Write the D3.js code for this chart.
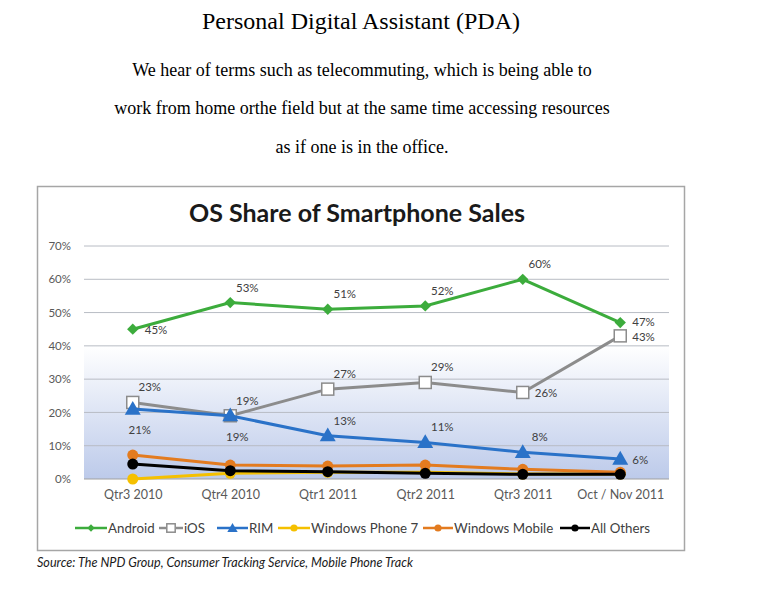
<!DOCTYPE html>
<html><head><meta charset="utf-8">
<script src="https://cdn.jsdelivr.net/npm/d3@7"></script>
<style>
html,body{margin:0;padding:0;background:#fff;}
svg{display:block;}
</style></head>
<body>
<svg id="c" width="768" height="601"></svg>
<script>
// ---- data ----
const categories = ["Qtr3 2010","Qtr4 2010","Qtr1 2011","Qtr2 2011","Qtr3 2011","Oct / Nov 2011"];
const yTicks = [0,10,20,30,40,50,60,70];
const android = [45,53,51,52,60,47];
const ios = [23,19,27,29,26,43];
const rim = [21,19,13,11,8,6];
const windowsPhone7 = [0,1.7,2,2,1.5,1.5];
const windowsMobile = [7.2,4.2,3.9,4.2,2.9,2];
const allOthers = [4.5,2.5,2.2,1.7,1.4,1.4];
const seriesNames = ["Android","iOS","RIM","Windows Phone 7","Windows Mobile","All Others"];
// label placement codes: r = right, ru = right/up, rd = right/down, a = above, b = below
const androidLabelPos = ["r","a","a","a","a","ru"];
const iosLabelPos = ["a","a","a","a","r","rd"];
const rimLabelPos = ["b","b","a","a","a","r"];

const pageTitle = "Personal Digital Assistant (PDA)";
const paragraph = ["We hear of terms such as telecommuting, which is being able to",
  "work from home orthe field but at the same time accessing resources",
  "as if one is in the office."];
const chartTitle = "OS Share of Smartphone Sales";
const sourceText = "Source: The NPD Group, Consumer Tracking Service, Mobile Phone Track";

// ---- drawing ----
const svg = d3.select("#c");
const serif = "'Liberation Serif','Times New Roman',serif";
const sans = "Lato,'Open Sans',sans-serif";

svg.append("text").attr("x",361).attr("y",29).attr("text-anchor","middle")
  .style("font-family",serif).style("font-size","24px").attr("fill","#000").text(pageTitle);
const paraY = [76,114,153];
paragraph.forEach((t,i)=>{
  svg.append("text").attr("x",362).attr("y",paraY[i]).attr("text-anchor","middle")
    .style("font-family",serif).style("font-size","18px").attr("fill","#000").text(t);
});

// chart frame
svg.append("rect").attr("x",37.5).attr("y",186.5).attr("width",647).attr("height",364)
  .attr("fill","#fff").attr("stroke","#a6a6a6").attr("stroke-width",1.5);

svg.append("text").attr("x",357).attr("y",222).attr("text-anchor","middle")
  .style("font-family",sans).style("font-weight","bold").style("font-size","25px").attr("fill","#1a1a1a").text(chartTitle);

const x = d3.scalePoint().domain(categories).range([84,669]).padding(0.5);
const y = d3.scaleLinear().domain([0,70]).range([479,246]);

// gradient background below 40%
const defs = svg.append("defs");
const grad = defs.append("linearGradient").attr("id","bg").attr("x1",0).attr("y1",0).attr("x2",0).attr("y2",1);
grad.append("stop").attr("offset","0%").attr("stop-color","#ffffff");
grad.append("stop").attr("offset","100%").attr("stop-color","#bccaea");
svg.append("rect").attr("x",84).attr("y",y(40)).attr("width",669-84).attr("height",y(0)-y(40)).attr("fill","url(#bg)");

// gridlines
svg.append("g").selectAll("line").data(yTicks).join("line")
  .attr("x1",84).attr("x2",669).attr("y1",d=>y(d)).attr("y2",d=>y(d))
  .attr("stroke",d=>d===0?"#a0a0a0":"#b8bcc4").attr("stroke-width",1);

// y axis
const yAxis = d3.axisLeft(y).tickValues(yTicks).tickSize(0).tickPadding(0).tickFormat(d=>d+"%");
const gy = svg.append("g").attr("transform","translate(71,0)").call(yAxis);
gy.select(".domain").remove();
gy.selectAll("text").style("font-family",sans).style("font-size","11.5px").attr("fill","#595959");

// x axis
const xAxis = d3.axisBottom(x).tickSize(0).tickPadding(0);
const gx = svg.append("g").attr("transform","translate(0,490)").call(xAxis);
gx.select(".domain").remove();
gx.selectAll("text").style("font-family",sans).style("font-size","12.5px").attr("fill","#595959");

const series = [
  {name:seriesNames[0], values:android, color:"#3cac3c", marker:"diamond", labels:androidLabelPos},
  {name:seriesNames[1], values:ios, color:"#8c8c8c", marker:"square", labels:iosLabelPos},
  {name:seriesNames[2], values:rim, color:"#2a72c8", marker:"triangle", labels:rimLabelPos},
  {name:seriesNames[3], values:windowsPhone7, color:"#f5c000", marker:"circle"},
  {name:seriesNames[4], values:windowsMobile, color:"#e37b1f", marker:"circle"},
  {name:seriesNames[5], values:allOthers, color:"#000000", marker:"circle"}
];

const line = d3.line().x((d,i)=>x(categories[i])).y(d=>y(d));

function drawMarker(g, type, color, cx, cy, scale){
  scale = scale||1;
  if(type==="diamond"){
    g.append("path").attr("d",d3.symbol(d3.symbolSquare,64*scale*scale)()).attr("transform",`translate(${cx},${cy}) rotate(45)`).attr("fill",color);
  } else if(type==="square"){
    const s=12*scale;
    g.append("rect").attr("x",cx-s/2).attr("y",cy-s/2).attr("width",s).attr("height",s).attr("fill","#fff").attr("stroke",color).attr("stroke-width",1.5);
  } else if(type==="triangle"){
    g.append("path").attr("d",d3.symbol(d3.symbolTriangle,110*scale*scale)()).attr("transform",`translate(${cx},${cy+1})`).attr("fill",color);
  } else {
    g.append("circle").attr("cx",cx).attr("cy",cy).attr("r",5.5*scale).attr("fill",color);
  }
}

const plot = svg.append("g");
series.forEach(s=>{
  const g = plot.append("g");
  g.append("path").datum(s.values).attr("d",line).attr("fill","none").attr("stroke",s.color).attr("stroke-width",3);
  s.values.forEach((v,i)=>drawMarker(g,s.marker,s.color,x(categories[i]),y(v)));
});

// data labels
const lab = svg.append("g");
series.forEach(s=>{
  if(!s.labels) return;
  s.values.forEach((v,i)=>{
    const p = s.labels[i]; if(!p) return;
    const cx = x(categories[i]), cy = y(v);
    let tx, ty, anchor;
    if(p==="r"){tx=cx+12; ty=cy+1; anchor="start";}
    else if(p==="ru"){tx=cx+12; ty=cy-0.5; anchor="start";}
    else if(p==="rd"){tx=cx+12; ty=cy+1.5; anchor="start";}
    else if(p==="a"){tx=cx+17; ty=cy-15; anchor="middle";}
    else {tx=cx+7; ty=cy+21; anchor="middle";}
    lab.append("text").attr("x",tx).attr("y",ty).attr("dy","0.35em").attr("text-anchor",anchor)
      .style("font-family",sans).style("font-size","11.5px").attr("fill","#404040").text(Math.round(v)+"%");
  });
});

// legend
const legendX = [75,159,217,278,423,560];
const legendW = [32,24,31,32,30,30];
const leg = svg.append("g");
series.forEach((s,i)=>{
  const lx = legendX[i], ly = 528, lw = legendW[i];
  if(s.marker==="square"){
    leg.append("line").attr("x1",lx).attr("x2",lx+7).attr("y1",ly).attr("y2",ly).attr("stroke",s.color).attr("stroke-width",2.5);
    leg.append("line").attr("x1",lx+lw-7).attr("x2",lx+lw).attr("y1",ly).attr("y2",ly).attr("stroke",s.color).attr("stroke-width",2.5);
    drawMarker(leg,s.marker,s.color,lx+lw/2,ly,0.7);
  } else {
    leg.append("line").attr("x1",lx).attr("x2",lx+lw).attr("y1",ly).attr("y2",ly).attr("stroke",s.color).attr("stroke-width",2.5);
    drawMarker(leg,s.marker,s.color,lx+lw/2,ly,0.65);
  }
  leg.append("text").attr("x",lx+lw+1).attr("y",ly).attr("dy","0.35em")
    .style("font-family",sans).style("font-size","13.3px").attr("fill","#404040").text(s.name);
});

svg.append("text").attr("x",37).attr("y",567)
  .style("font-family",sans).style("font-style","italic").style("font-size","12.6px").attr("fill","#1a1a1a").text(sourceText);
</script>
</body></html>
